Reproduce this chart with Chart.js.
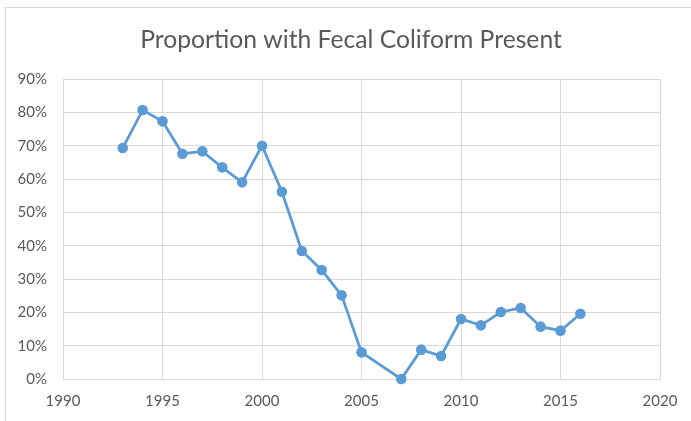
<!DOCTYPE html>
<html>
<head>
<meta charset="utf-8">
<script src="https://cdn.jsdelivr.net/npm/chart.js@4"></script>
<style>
  html, body { margin: 0; padding: 0; background: #fff; overflow: hidden; }
  #frame { position: absolute; left: 5px; top: 7px; width: 720px; height: 450px; border: 1px solid #d9d9d9; }
  #wrap { position: absolute; left: 0; top: 0; width: 691px; height: 421px; }
</style>
</head>
<body>
<div id="frame"></div>
<div id="wrap"><canvas id="grafico1" width="691" height="421"></canvas></div>
<script>
const ctx = document.getElementById('grafico1');

// anos (2006 sem dado)
let anos = [1993, 1994, 1995, 1996, 1997, 1998, 1999, 2000, 2001, 2002, 2003, 2004, 2005,
            2007, 2008, 2009, 2010, 2011, 2012, 2013, 2014, 2015, 2016];

// proporcao com coliforme fecal (%)
let valores = [69.3, 80.7, 77.3, 67.6, 68.3, 63.5, 59.0, 70.0, 56.2, 38.4, 32.7, 25.1, 8.0,
               0.0, 8.8, 6.9, 18.0, 16.1, 20.1, 21.3, 15.7, 14.5, 19.6];

let titulo = 'Proportion with Fecal Coliform Present';

const corLinha = '#5B9BD5';
const corGrade = '#d9d9d9';
const corTexto = '#595959';

let pontos = anos.map((a, i) => ({ x: a, y: valores[i] }));

let grafico = new Chart(ctx, {
  type: 'line',
  data: {
    datasets: [{
      label: titulo,
      data: pontos,
      borderColor: corLinha,
      backgroundColor: corLinha,
      borderWidth: 2.75,
      pointRadius: 5.3,
      pointBorderWidth: 0,
      pointBackgroundColor: corLinha,
      tension: 0,
      clip: false
    }]
  },
  options: {
    responsive: false,
    animation: false,
    layout: { padding: { left: 11, right: 0, top: 0, bottom: 0 } },
    plugins: {
      legend: { display: false },
      tooltip: { enabled: false },
      title: {
        display: true,
        text: titulo,
        color: corTexto,
        font: { family: 'Lato', size: 24.7, weight: 'normal' },
        padding: { top: 25.5, bottom: 23.9 }
      }
    },
    scales: {
      x: {
        type: 'linear',
        min: 1990,
        max: 2020,
        ticks: {
          stepSize: 5,
          color: corTexto,
          font: { family: 'Lato', size: 15 },
          padding: 13,
          maxRotation: 0,
          callback: v => String(v)
        },
        grid: { color: corGrade, drawTicks: false },
        border: { color: corGrade },
        afterFit: s => { s.height = 42; }
      },
      y: {
        min: 0,
        max: 90,
        ticks: {
          stepSize: 10,
          color: corTexto,
          font: { family: 'Lato', size: 15 },
          padding: 16,
          callback: v => v + '%'
        },
        grid: { color: corGrade, drawTicks: false },
        border: { color: corGrade },
        afterFit: s => { s.width = 52; }
      },
      // eixo vazio a direita so para reservar espaco
      y2: {
        position: 'right',
        min: 0,
        max: 90,
        ticks: { display: false },
        grid: { display: false, drawTicks: false },
        border: { display: false },
        afterFit: s => { s.width = 31; }
      }
    }
  }
});
</script>
</body>
</html>
